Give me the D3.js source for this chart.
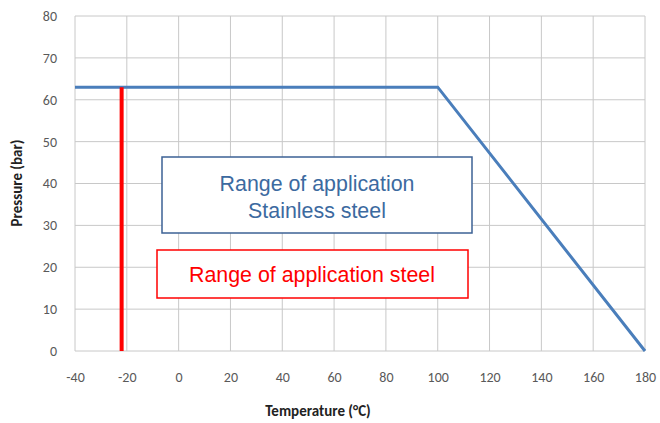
<!DOCTYPE html>
<html>
<head>
<meta charset="utf-8">
<script src="https://cdn.jsdelivr.net/npm/d3@7"></script>
<style>
  body { margin: 0; background: #fff; }
  text { font-family: Carlito, "Liberation Sans", Arial, sans-serif; }
</style>
</head>
<body>
<div id="chart"></div>
<script>
// stainless steel limit (temperature, pressure)
var stainlessTemp = [-40, 100, 180]
var stainlessPress = [63, 63, 0]
// steel lower limit
var steelTemp = [-22, -22]
var steelPress = [0, 63]

var xTicks = [-40, -20, 0, 20, 40, 60, 80, 100, 120, 140, 160, 180]
var yTicks = [0, 10, 20, 30, 40, 50, 60, 70, 80]

var width = 660, height = 423
var plotLeft = 75, plotRight = 645, plotTop = 16, plotBottom = 351

const svg = d3.select('#chart').append('svg')
    .attr('width', width)
    .attr('height', height)

const x = d3.scaleLinear().domain([-40, 180]).range([plotLeft, plotRight])
const y = d3.scaleLinear().domain([0, 80]).range([plotBottom, plotTop])

// grid
svg.append('g').selectAll('line')
    .data(xTicks)
    .enter().append('line')
    .attr('x1', d => x(d)).attr('x2', d => x(d))
    .attr('y1', plotTop).attr('y2', plotBottom)
    .attr('stroke', '#c8c8c8').attr('stroke-width', 1)

svg.append('g').selectAll('line')
    .data(yTicks)
    .enter().append('line')
    .attr('x1', plotLeft).attr('x2', plotRight)
    .attr('y1', d => y(d)).attr('y2', d => y(d))
    .attr('stroke', '#c8c8c8').attr('stroke-width', 1)

// axes labels
const xAxis = d3.axisBottom(x).tickValues(xTicks).tickSize(0).tickPadding(21)
    .tickFormat(d => String(d))
const yAxis = d3.axisLeft(y).tickValues(yTicks).tickSize(0).tickPadding(18)
    .tickFormat(d => String(d))

var gx = svg.append('g')
    .attr('transform', 'translate(0,' + plotBottom + ')')
    .call(xAxis)
gx.select('.domain').remove()
gx.selectAll('text').attr('fill', '#595959').style('font-size', '14px')
    .style('font-family', 'Carlito, "Liberation Sans", sans-serif')

var gy = svg.append('g')
    .attr('transform', 'translate(' + plotLeft + ',0)')
    .call(yAxis)
gy.select('.domain').remove()
gy.selectAll('text').attr('fill', '#595959').style('font-size', '14px')
    .style('font-family', 'Carlito, "Liberation Sans", sans-serif')

// lines
const line = d3.line()
    .x(d => x(d[0]))
    .y(d => y(d[1]))

svg.append('path')
    .datum(stainlessTemp.map((t, i) => [t, stainlessPress[i]]))
    .attr('d', line)
    .attr('fill', 'none')
    .attr('stroke', '#4a7ebb')
    .attr('stroke-width', 3)

svg.append('path')
    .datum(steelTemp.map((t, i) => [t, steelPress[i]]))
    .attr('d', line)
    .attr('fill', 'none')
    .attr('stroke', '#ff0000')
    .attr('stroke-width', 4)

// boxes, narrow text faked with a horizontal squeeze
function boxText (tx, ty, colour, label) {
    svg.append('text')
        .attr('transform', 'translate(' + tx + ',' + ty + ') scale(0.93,1)')
        .attr('text-anchor', 'middle')
        .attr('fill', colour)
        .style('font-family', '"Liberation Sans", Arial, sans-serif')
        .style('font-size', '23px')
        .text(label)
}

svg.append('rect')
    .attr('x', 162).attr('y', 157).attr('width', 310).attr('height', 76)
    .attr('fill', '#fff').attr('stroke', '#3c6295').attr('stroke-width', 1.5)
boxText(317, 191, '#3c6aa0', 'Range of application')
boxText(317, 218, '#3c6aa0', 'Stainless steel')

svg.append('rect')
    .attr('x', 157).attr('y', 250).attr('width', 311).attr('height', 48)
    .attr('fill', '#fff').attr('stroke', '#ff0000').attr('stroke-width', 1.5)
boxText(312, 282, '#ff0000', 'Range of application steel')

// titles
svg.append('text')
    .attr('x', 318).attr('y', 416)
    .attr('text-anchor', 'middle')
    .attr('fill', '#222')
    .style('font-size', '15px')
    .style('font-weight', 'bold')
    .text('Temperature (°C)')

svg.append('text')
    .attr('transform', 'translate(22,' + 183 + ') rotate(-90)')
    .attr('text-anchor', 'middle')
    .attr('fill', '#222')
    .style('font-size', '15px')
    .style('font-weight', 'bold')
    .text('Pressure (bar)')
</script>
</body>
</html>
